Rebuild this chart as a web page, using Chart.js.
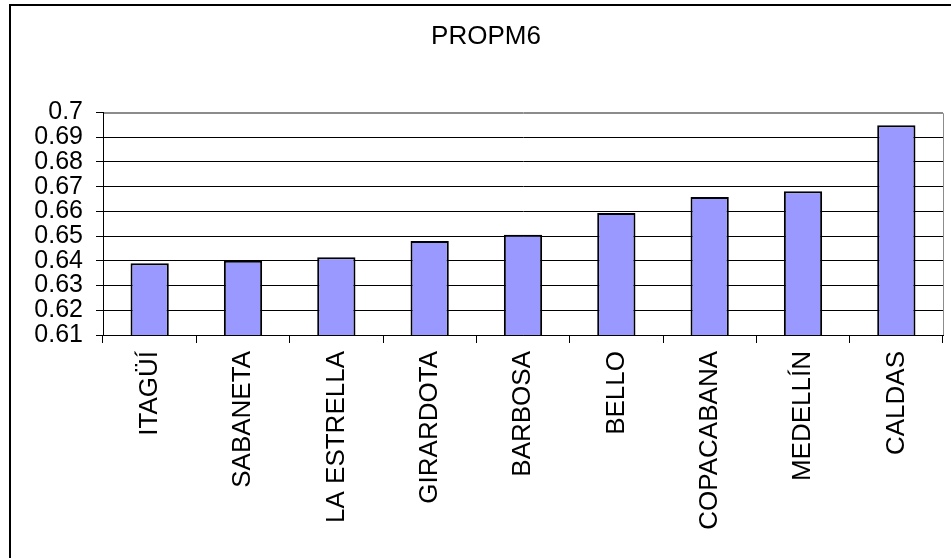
<!DOCTYPE html>
<html>
<head>
<meta charset="utf-8">
<script src="https://cdn.jsdelivr.net/npm/chart.js@4/dist/chart.umd.min.js"></script>
<style>
  html, body { margin: 0; padding: 0; background: #fff; overflow: hidden; }
  #wrap { width: 951px; height: 558px; }
</style>
</head>
<body>
<div id="wrap"><canvas id="c" width="951" height="558"></canvas></div>
<script>
// Municipalities on the category axis
const categories = ['ITAGÜÍ', 'SABANETA', 'LA ESTRELLA', 'GIRARDOTA', 'BARBOSA', 'BELLO', 'COPACABANA', 'MEDELLÍN', 'CALDAS'];
// PROPM6 value per municipality
const propm6 = [0.639, 0.640, 0.6415, 0.648, 0.6506, 0.6593, 0.6658, 0.6681, 0.6948];
// Value axis range and step
const yMin = 0.61;
const yMax = 0.7;
const yStep = 0.01;
const chartTitle = 'PROPM6';

const FONT = '"Liberation Sans", Arial, Helvetica, sans-serif';

const frame = {
  id: 'frame',
  afterDraw(chart) {
    const { ctx, chartArea } = chart;
    ctx.save();
    // top and right edges of the plot area
    ctx.strokeStyle = '#8c8c8c';
    ctx.lineWidth = 1;
    ctx.beginPath();
    ctx.moveTo(Math.round(chartArea.left) + 1, Math.round(chartArea.top) + 0.5);
    ctx.lineTo(Math.round(chartArea.right) + 0.5, Math.round(chartArea.top) + 0.5);
    ctx.lineTo(Math.round(chartArea.right) + 0.5, Math.round(chartArea.bottom));
    ctx.stroke();
    // outer chart border
    ctx.strokeStyle = '#000';
    ctx.lineWidth = 2;
    ctx.strokeRect(10, 5, 1200, 1200);
    // title
    ctx.fillStyle = '#000';
    ctx.font = '26px ' + FONT;
    ctx.textAlign = 'center';
    ctx.textBaseline = 'middle';
    ctx.fillText(chartTitle, 486, 37);
    ctx.restore();
  }
};

new Chart(document.getElementById('c'), {
  type: 'bar',
  data: {
    labels: categories,
    datasets: [{
      label: chartTitle,
      data: propm6,
      backgroundColor: '#9999ff',
      borderColor: '#000',
      borderWidth: 2,
      borderSkipped: false,
      barPercentage: 0.41,
      categoryPercentage: 1
    }]
  },
  options: {
    responsive: false,
    animation: false,
    devicePixelRatio: 1,
    layout: { padding: { top: 112.5, right: 8, left: 0, bottom: 0 } },
    plugins: {
      legend: { display: false },
      title: { display: false },
      tooltip: { enabled: false }
    },
    scales: {
      x: {
        offset: true,
        grid: {
          display: true,
          drawOnChartArea: false,
          drawTicks: true,
          tickLength: 8,
          tickColor: '#000',
          offset: true
        },
        border: { display: true, color: '#000', width: 1 },
        ticks: {
          color: '#000',
          font: { family: FONT, size: 26 },
          minRotation: 90,
          maxRotation: 90,
          autoSkip: false,
          padding: 8
        },
        afterFit(scale) { scale.height = 223; }
      },
      y: {
        min: yMin,
        max: yMax,
        grid: {
          color: (c) => (c.tick && Math.abs(c.tick.value - yMax) < 1e-9) ? '#8c8c8c' : '#000',
          lineWidth: 1,
          drawTicks: true,
          tickLength: 7,
          tickColor: '#000'
        },
        border: { display: true, color: '#000', width: 1 },
        ticks: {
          stepSize: yStep,
          autoSkip: false,
          color: '#000',
          font: { family: FONT, size: 25 },
          padding: 13,
          callback: (v) => String(+Number(v).toFixed(2))
        },
        afterFit(scale) { scale.width = 103; }
      }
    }
  },
  plugins: [frame]
});
</script>
</body>
</html>
